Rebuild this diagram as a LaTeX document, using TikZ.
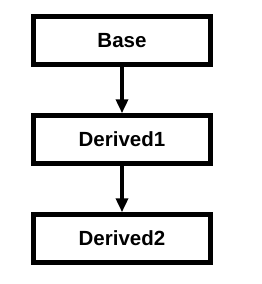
\documentclass[tikz,border=0pt]{standalone}
\usepackage{fontspec}
\setmainfont{Liberation Sans}
\usetikzlibrary{arrows.meta}
\begin{document}
\begin{tikzpicture}[x=1bp,y=-1bp,
  box/.style={draw=black,line width=5bp,fill=white,minimum width=176bp,minimum height=47.5bp,inner sep=0pt,font=\fontsize{20.5bp}{24bp}\selectfont\bfseries},
  conn/.style={line width=3.5bp,-{Triangle[length=14bp,width=12bp]}}]
\useasboundingbox (0,0) rectangle (262,284);
\node[box] (base) at (122,40.25) {Base};
\node[box] (d1) at (122,139.5) {Derived1};
\node[box] (d2) at (122,238.5) {Derived2};
\draw[conn] (base) -- (d1);
\draw[conn] (d1) -- (d2);
\end{tikzpicture}
\end{document}
